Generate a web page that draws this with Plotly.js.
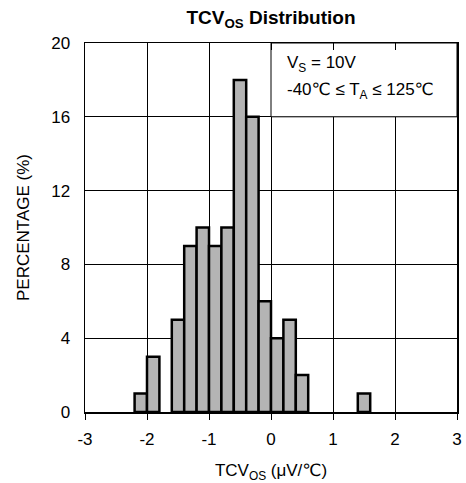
<!DOCTYPE html>
<html>
<head>
<meta charset="utf-8">
<script src="https://cdn.plot.ly/plotly-3.0.1.min.js"></script>
<style>html,body{margin:0;padding:0;background:#fff;}#chart{width:466px;height:483px;}</style>
</head>
<body>
<div id="chart"></div>
<script>
// bin centres (µV/℃), bin width 0.2
const binCenters = [-2.1, -1.9, -1.5, -1.3, -1.1, -0.9, -0.7, -0.5, -0.3, -0.1, 0.1, 0.3, 0.5, 1.5];
const percentages = [1, 3, 5, 9, 10, 9, 10, 18, 16, 6, 4, 5, 2, 1];
const binWidth = 0.2;
const xTicks = [-3, -2, -1, 0, 1, 2, 3];
const yTicks = [0, 4, 8, 12, 16, 20];

const FONT = "'Liberation Sans', Arial, 'DejaVu Sans', sans-serif";

const trace = {
  type: 'bar',
  x: binCenters,
  y: percentages,
  width: binCenters.map(() => binWidth),
  marker: { color: '#b4b4b4', line: { color: '#000', width: 2.5 } },
  hoverinfo: 'skip'
};

const layout = {
  width: 466, height: 483,
  margin: { l: 85, r: 9, t: 43, b: 71 },
  paper_bgcolor: '#fff', plot_bgcolor: '#fff',
  font: { family: FONT, size: 17, color: '#000' },
  showlegend: false,
  title: {
    text: '<b>TCV<sub>OS</sub> Distribution</b>',
    xref: 'paper', x: 0.5, xanchor: 'center', y: 0.965, yanchor: 'middle',
    font: { family: FONT, size: 19, color: '#000' }
  },
  xaxis: {
    range: [-3, 3], tickvals: xTicks, ticktext: xTicks.map(String),
    ticks: 'outside', ticklen: 11, tickwidth: 1, tickcolor: 'rgba(0,0,0,0)',
    showgrid: true, gridcolor: '#000', gridwidth: 1,
    zeroline: false, showline: true, linecolor: '#000', linewidth: 1.5, mirror: true,
    tickfont: { size: 17 },
    title: { text: 'TCV<sub>OS</sub> (μV/℃)', standoff: 17, font: { size: 17 } }
  },
  xaxis2: {
    overlaying: 'x', side: 'top', matches: 'x', range: [-3, 3], tickvals: xTicks,
    ticks: 'inside', ticklen: 7, tickwidth: 1, tickcolor: '#000',
    showticklabels: false, showgrid: false, zeroline: false, showline: false
  },
  xaxis3: {
    overlaying: 'x', side: 'bottom', matches: 'x', range: [-3, 3], tickvals: xTicks,
    ticks: 'outside', ticklen: 7, tickwidth: 1, tickcolor: '#000',
    showticklabels: false, showgrid: false, zeroline: false, showline: false
  },
  yaxis: {
    range: [0, 20], tickvals: yTicks, ticktext: yTicks.map(String),
    ticks: 'outside', ticklen: 10, tickcolor: 'rgba(0,0,0,0)',
    showgrid: true, gridcolor: '#000', gridwidth: 1,
    zeroline: false, showline: true, linecolor: '#000', linewidth: 1.5, mirror: true,
    tickfont: { size: 17 },
    title: { text: 'PERCENTAGE (%)', standoff: 17, font: { size: 17 } }
  },
  shapes: [{
    type: 'rect', xref: 'x', yref: 'y', x0: 0, x1: 3, y0: 16, y1: 20,
    fillcolor: '#fff', line: { color: '#000', width: 1 }, layer: 'between'
  }],
  annotations: [
    { xref: 'x', yref: 'y', x: 0.22, y: 18.87, xanchor: 'left', yanchor: 'middle',
      text: 'V<sub>S</sub> = 10V', showarrow: false, font: { size: 17 } },
    { xref: 'x', yref: 'y', x: 0.22, y: 17.4, xanchor: 'left', yanchor: 'middle',
      text: '-40℃ ≤ T<sub>A</sub> ≤ 125℃', showarrow: false, font: { size: 17 } }
  ]
};

const ghost2 = { type: 'scatter', x: [0], y: [0], xaxis: 'x2', yaxis: 'y', mode: 'none', hoverinfo: 'skip' };
const ghost3 = { type: 'scatter', x: [0], y: [0], xaxis: 'x3', yaxis: 'y', mode: 'none', hoverinfo: 'skip' };

Plotly.newPlot('chart', [trace, ghost2, ghost3], layout, { staticPlot: true, displayModeBar: false });
</script>
</body>
</html>
